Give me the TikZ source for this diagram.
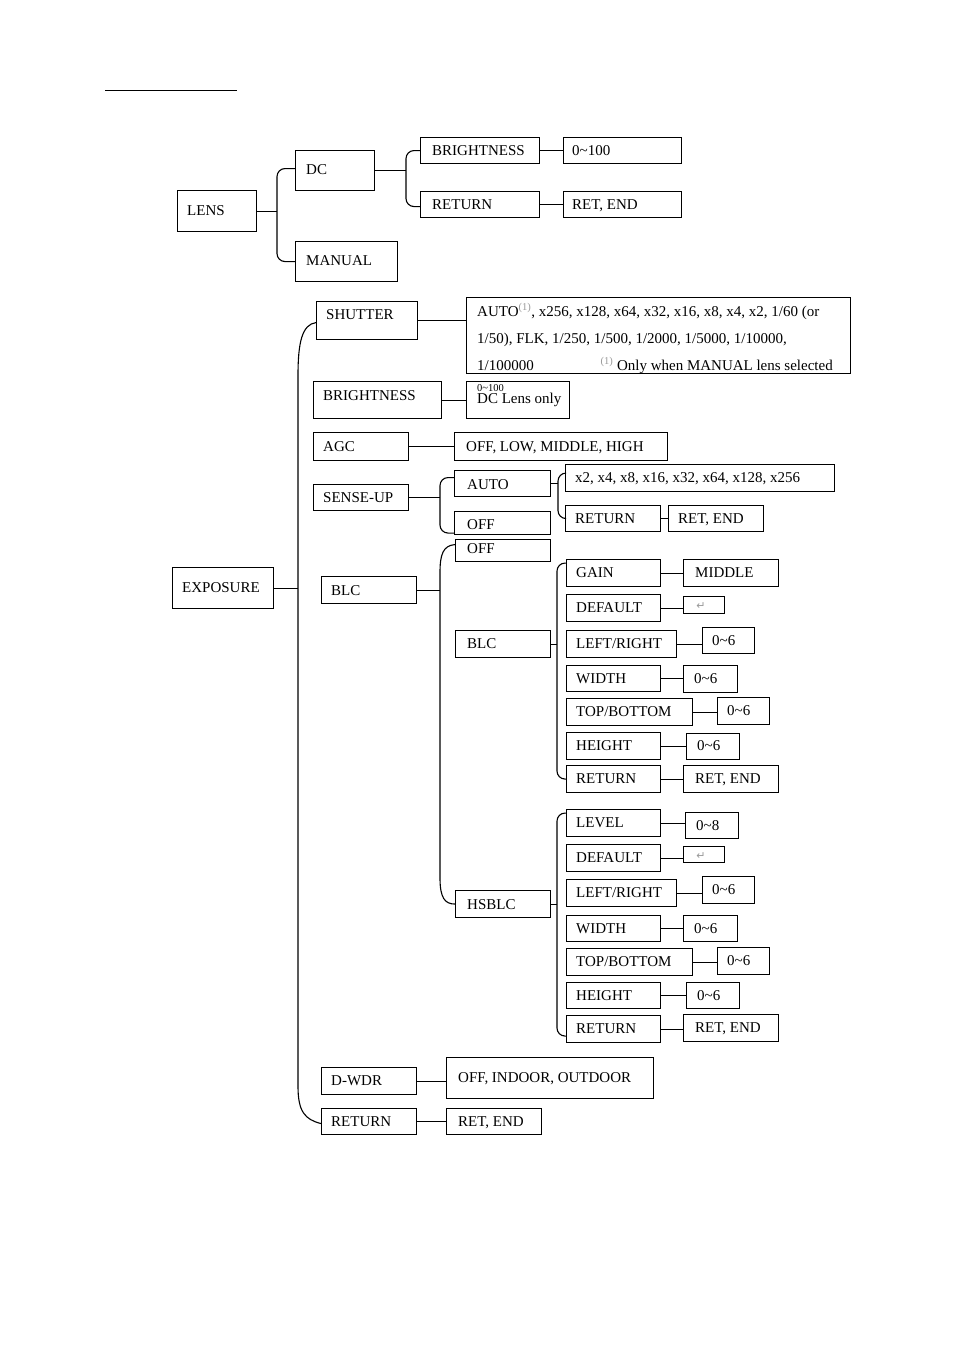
\documentclass[tikz,border=0pt]{standalone}
\usepackage{fontspec}
\setmainfont{Liberation Serif}
\newfontfamily\symfont{DejaVu Sans}
\usetikzlibrary{calc}
\tikzset{
 box/.style={draw, line width=1.1pt, inner sep=0pt, anchor=north west},
 lbl/.style={inner sep=0pt, anchor=base west, font=\fontsize{15}{17}\selectfont},
 conn/.style={line width=1.1pt},
 brk/.style={line width=1.1pt, rounded corners=8pt},
 grey/.style={text=black!40},
}
% [pad] name x1 y1 x2 y2 texty text
\newcommand\mybox[8][10]{%
 \node[box, minimum width={#5-#3}, minimum height={#6-#4}] (#2) at (#3,#4) {};
 \node[lbl] (#2t) at ({#3+#1},{#7+5}) {#8};}
\newcommand\emptybox[5]{%
 \node[box, minimum width={#4-#2}, minimum height={#5-#3}] (#1) at (#2,#3) {};}
\newcommand\tl{\textasciitilde}
\begin{document}
\begin{tikzpicture}[x=1pt,y=-1pt]
\path[use as bounding box, fill=white] (0,0) rectangle (954,1350);
% underline
\coordinate (ul1) at (105,90); \coordinate (ul2) at (237,90);
\draw[line width=1pt] (ul1) -- (ul2);

% ---------------- LENS ----------------
\mybox{lens}{177}{190}{256}{231}{210}{LENS}
\mybox[11]{dc}{295}{150}{374}{190}{169}{DC}
\mybox[11]{manual}{295}{241}{397}{281}{260}{MANUAL}
\mybox[12]{lbr}{420}{137}{539}{163}{150}{BRIGHTNESS}
\mybox[9]{lbrv}{563}{137}{681}{163}{150}{0\tl100}
\mybox[12]{lret}{420}{191}{539}{217}{204}{RETURN}
\mybox[9]{lretv}{563}{191}{681}{217}{204}{RET, END}
\coordinate (xl) at (277,0);
\coordinate (xd) at (406,0);
\draw[conn] (lens.east) -- (lens.east -| xl);
\draw[brk] ($(dc.west)+(0,-2)$) -- ($(dc.west -| xl)+(0,-2)$) -- (manual.west -| xl) -- (manual.west);
\draw[conn] (dc.east) -- (dc.east -| xd);
\draw[brk] (lbr.west) -- (lbr.west -| xd) -- ($(lret.west -| xd)+(0,2)$) -- ($(lret.west)+(0,2)$);
\draw[conn] (lbr.east) -- (lbrv.west);
\draw[conn] (lret.east) -- (lretv.west);

% ---------------- EXPOSURE ----------------
\mybox{exp}{172}{567}{273}{608}{587}{EXPOSURE}
\mybox{shut}{316}{301}{417}{339}{314}{SHUTTER}
\emptybox{shutv}{466}{297}{850}{373}
\node[lbl] (sv1) at (477,316) {AUTO\textsuperscript{\textcolor{black!40}{(1)}}, x256, x128, x64, x32, x16, x8, x4, x2, 1/60 (or};
\node[lbl] (sv2) at (477,343) {1/50), FLK, 1/250, 1/500, 1/2000, 1/5000, 1/10000,};
\node[lbl] (sv3) at (477,370) {1/100000};
\node[lbl, anchor=base east] (sv4) at (833,370) {\textsuperscript{\textcolor{black!40}{(1)}} Only when MANUAL lens selected};
\draw[conn] (shut.east) -- (shut.east -| shutv.west);

\mybox{ebr}{313}{381}{441}{418}{395}{BRIGHTNESS}
\emptybox{ebrv}{466}{381}{569}{418}
\node[lbl, font=\fontsize{10.5}{10}\selectfont] (ebv1) at (477,391) {0\tl100};
\node[lbl] (ebv2) at (477,403) {DC Lens only};
\draw[conn] (ebr.east) -- (ebrv.west);

\mybox{agc}{313}{432}{408}{460}{446}{AGC}
\mybox[12]{agcv}{454}{432}{667}{460}{446}{OFF, LOW, MIDDLE, HIGH}
\draw[conn] (agc.east) -- (agcv.west);

\mybox{sense}{313}{484}{408}{510}{497}{SENSE-UP}
\mybox[13]{sauto}{454}{470}{550}{496}{484}{AUTO}
\mybox[13]{soff}{454}{511}{550}{534}{524}{OFF}
\mybox{sautov}{565}{464}{834}{491}{477}{x2, x4, x8, x16, x32, x64, x128, x256}
\mybox{sret}{565}{505}{660}{531}{518}{RETURN}
\mybox{sretv}{668}{505}{763}{531}{518}{RET, END}
\coordinate (xs) at (440,0);
\coordinate (xa) at (558,0);
\draw[conn] (sense.east) -- (sense.east -| xs);
\draw[brk] ($(sauto.west)+(0,-6)$) -- ($(sauto.west -| xs)+(0,-6)$) -- ($(soff.west -| xs)+(0,10)$) -- ($(soff.west)+(0,10)$);
\draw[conn] (sauto.east) -- (sauto.east -| xa);
\draw[brk] ($(sautov.west)+(0,-5)$) -- ($(sautov.west -| xa)+(0,-5)$) -- (sret.west -| xa) -- (sret.west);
\draw[conn] (sret.east) -- (sretv.west);

% BLC
\mybox{blc}{321}{576}{416}{603}{590}{BLC}
\mybox[12]{boff}{455}{539}{550}{561}{548}{OFF}
\mybox[12]{bblc}{455}{630}{550}{657}{643}{BLC}
\mybox[12]{bhs}{455}{890}{550}{917}{904}{HSBLC}
\coordinate (xb) at (440,0);
\coordinate (xg) at (557,0);
\draw[conn] (blc.east) -- (blc.east -| xb);
\draw[conn] ($(boff.west)+(0,-6)$) .. controls ($(boff.west)+(-12,-5)$) and ($(boff.west -| xb)+(0,4)$) .. ($(boff.west -| xb)+(0,22)$)
  -- ($(bhs.west -| xb)+(0,-26)$) .. controls ($(bhs.west -| xb)+(0,-6)$) and ($(bhs.west)+(-10,0)$) .. (bhs.west);

% BLC sub group
\mybox{a1}{566}{559}{660}{586}{572}{GAIN}
\mybox[12]{a1v}{683}{559}{778}{586}{572}{MIDDLE}
\mybox{a2}{566}{594}{660}{621}{607}{DEFAULT}
\emptybox{a2v}{683}{596}{724}{613}
\node[grey, inner sep=0pt, font=\symfont\fontsize{11}{11}\selectfont] (a2vs) at (701,606) {↵};
\mybox{a3}{566}{630}{676}{657}{643}{LEFT/RIGHT}
\mybox{a3v}{702}{627}{754}{653}{640}{0\tl6}
\mybox{a4}{566}{665}{660}{691}{678}{WIDTH}
\mybox[11]{a4v}{683}{665}{737}{692}{678}{0\tl6}
\mybox{a5}{566}{698}{692}{725}{711}{TOP/BOTTOM}
\mybox{a5v}{717}{697}{769}{724}{710}{0\tl6}
\mybox{a6}{566}{732}{660}{759}{745}{HEIGHT}
\mybox[11]{a6v}{686}{733}{739}{759}{745}{0\tl6}
\mybox{a7}{566}{765}{660}{792}{778}{RETURN}
\mybox[12]{a7v}{683}{765}{778}{792}{778}{RET, END}
\draw[conn] (bblc.east) -- (bblc.east -| xg);
\draw[brk] ($(a1.west)+(0,-10)$) -- ($(a1.west -| xg)+(0,-10)$) -- (a7.west -| xg) -- (a7.west);
\foreach \i in {1,...,7} {\draw[conn] (a\i.east) -- (a\i.east -| a\i v.west);}

% HSBLC sub group
\mybox{h1}{566}{809}{660}{836}{822}{LEVEL}
\mybox[11]{h1v}{685}{812}{738}{838}{825}{0\tl8}
\mybox{h2}{566}{844}{660}{871}{857}{DEFAULT}
\emptybox{h2v}{683}{846}{724}{862}
\node[grey, inner sep=0pt, font=\symfont\fontsize{11}{11}\selectfont] (h2vs) at (701,856) {↵};
\mybox{h3}{566}{879}{676}{906}{892}{LEFT/RIGHT}
\mybox{h3v}{702}{876}{754}{903}{889}{0\tl6}
\mybox{h4}{566}{915}{660}{941}{928}{WIDTH}
\mybox[11]{h4v}{683}{915}{737}{941}{928}{0\tl6}
\mybox{h5}{566}{948}{692}{975}{961}{TOP/BOTTOM}
\mybox{h5v}{717}{947}{769}{974}{960}{0\tl6}
\mybox{h6}{566}{982}{660}{1008}{995}{HEIGHT}
\mybox[11]{h6v}{686}{982}{739}{1008}{995}{0\tl6}
\mybox{h7}{566}{1015}{660}{1042}{1028}{RETURN}
\mybox[12]{h7v}{683}{1014}{778}{1041}{1027}{RET, END}
\draw[conn] (bhs.east) -- (bhs.east -| xg);
\draw[brk] ($(h1.west)+(0,-10)$) -- ($(h1.west -| xg)+(0,-10)$) -- ($(h7.west -| xg)+(0,7)$) -- ($(h7.west)+(0,7)$);
\foreach \i in {1,...,7} {\draw[conn] (h\i.east) -- (h\i.east -| h\i v.west);}

% D-WDR, RETURN
\mybox{dwdr}{321}{1067}{416}{1094}{1080}{D-WDR}
\mybox[12]{dwdrv}{446}{1057}{653}{1098}{1077}{OFF, INDOOR, OUTDOOR}
\mybox{eret}{321}{1108}{416}{1134}{1121}{RETURN}
\mybox[12]{eretv}{446}{1108}{541}{1134}{1121}{RET, END}
\draw[conn] (dwdr.east) -- (dwdr.east -| dwdrv.west);
\draw[conn] (eret.east) -- (eretv.west);

% main exposure bracket
\coordinate (xe) at (298,0);
\draw[conn] (exp.east) -- (exp.east -| xe);
\draw[conn] ($(shut.west)+(0,2)$) .. controls ($(shut.west)+(-14,4)$) and ($(shut.west -| xe)+(0,22)$) .. ($(shut.west -| xe)+(0,55)$)
  -- ($(eret.west -| xe)+(0,-35)$) .. controls ($(eret.west -| xe)+(0,-10)$) and ($(eret.west)+(-16,-2)$) .. ($(eret.west)+(0,2)$);
\end{tikzpicture}
\end{document}
